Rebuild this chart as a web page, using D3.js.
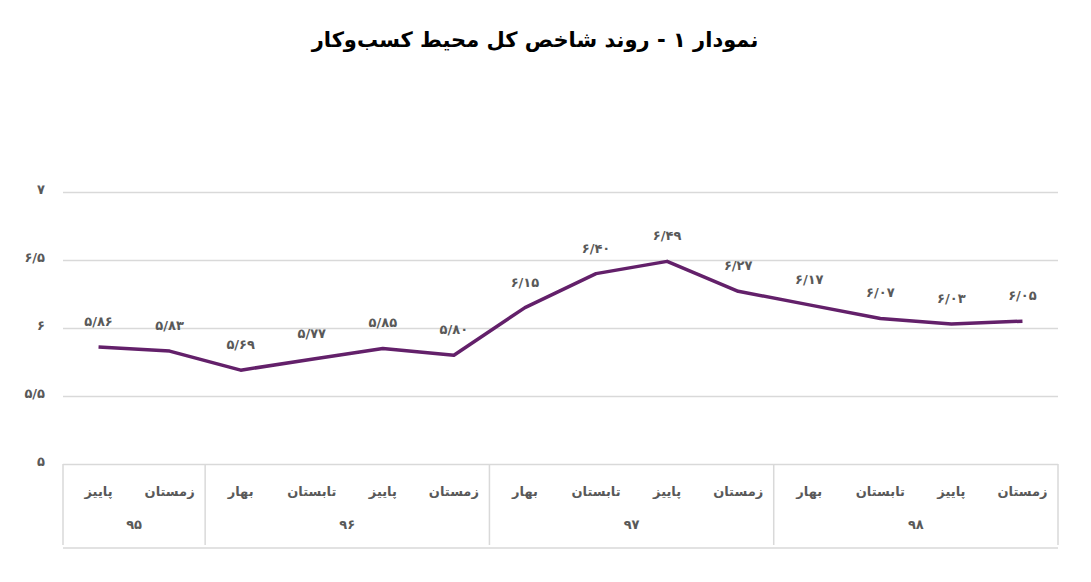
<!DOCTYPE html>
<html lang="fa">
<head>
<meta charset="utf-8">
<script src="https://cdn.jsdelivr.net/npm/d3@7"></script>
<style>
  html, body { margin: 0; padding: 0; background: #fff; }
  svg { display: block; font-family: "DejaVu Sans", "Noto Sans", sans-serif; }
</style>
</head>
<body>
<svg id="chart" width="1091" height="582"></svg>
<script>
const title = "نمودار ۱ - روند شاخص کل محیط کسب‌وکار";
const seasons = ["پاییز","زمستان","بهار","تابستان","پاییز","زمستان","بهار","تابستان","پاییز","زمستان","بهار","تابستان","پاییز","زمستان"];
const years = ["۹۵","۹۵","۹۶","۹۶","۹۶","۹۶","۹۷","۹۷","۹۷","۹۷","۹۸","۹۸","۹۸","۹۸"];
const values = [5.86, 5.83, 5.69, 5.77, 5.85, 5.80, 6.15, 6.40, 6.49, 6.27, 6.17, 6.07, 6.03, 6.05];
const yTicks = [5, 5.5, 6, 6.5, 7];

const faDigits = "۰۱۲۳۴۵۶۷۸۹";
const toFa = s => String(s).replace(/\d/g, d => faDigits[+d]).replace(".", "/");

const svg = d3.select("#chart");
const mLeft = 63, mRight = 1058, mTop = 192, mBottom = 464;

const x = d3.scaleBand().domain(d3.range(values.length)).range([mLeft, mRight]);
const y = d3.scaleLinear().domain([5, 7]).range([mBottom, mTop]);

// title
svg.append("text").attr("x", 535).attr("y", 47).attr("text-anchor", "middle")
  .attr("font-size", 21).attr("font-weight", "bold").attr("fill", "#000")
  .attr("direction", "rtl").text(title);

// gridlines
const yAxis = d3.axisLeft(y).tickValues(yTicks).tickSize(-(mRight - mLeft)).tickFormat(toFa);
const gy = svg.append("g").attr("transform", `translate(${mLeft},0)`).call(yAxis);
gy.select(".domain").remove();
gy.selectAll(".tick line").attr("stroke", "#d9d9d9").attr("stroke-width", 1.5);
gy.selectAll(".tick text").attr("x", -18).attr("dy", "0.1em").attr("fill", "#595959")
  .attr("font-size", 13).attr("font-weight", "bold").attr("font-family", "DejaVu Sans");

// category axis
const gx = svg.append("g");
gx.selectAll("text.season").data(seasons).join("text").attr("class", "season")
  .attr("x", (d, i) => x(i) + x.bandwidth() / 2).attr("y", 496)
  .attr("text-anchor", "middle").attr("font-size", 13).attr("font-weight", "bold")
  .attr("fill", "#595959").text(d => d);

// year groups
const groups = [];
years.forEach((yr, i) => {
  const g = groups[groups.length - 1];
  if (g && g.year === yr) g.end = i; else groups.push({year: yr, start: i, end: i});
});
const boundaries = [mLeft].concat(groups.map(g => x(g.end) + x.bandwidth()));
gx.selectAll("line.sep").data(boundaries).join("line").attr("class", "sep")
  .attr("x1", d => d).attr("x2", d => d).attr("y1", mBottom).attr("y2", 545)
  .attr("stroke", "#d9d9d9").attr("stroke-width", 1.5);
gx.append("line").attr("x1", mLeft).attr("x2", mRight).attr("y1", 548).attr("y2", 548)
  .attr("stroke", "#d9d9d9").attr("stroke-width", 1.5);
gx.selectAll("text.year").data(groups).join("text").attr("class", "year")
  .attr("x", g => (x(g.start) + x(g.end) + x.bandwidth()) / 2).attr("y", 529)
  .attr("text-anchor", "middle").attr("font-size", 13).attr("font-weight", "bold")
  .attr("fill", "#595959").text(g => g.year);

// line
const line = d3.line().x((d, i) => x(i) + x.bandwidth() / 2).y(d => y(d));
svg.append("path").datum(values).attr("d", line).attr("fill", "none")
  .attr("stroke", "#63206a").attr("stroke-width", 3.5).attr("stroke-linejoin", "round");

// data labels
svg.selectAll("text.lbl").data(values).join("text").attr("class", "lbl")
  .attr("x", (d, i) => x(i) + x.bandwidth() / 2).attr("y", d => y(d) - 21)
  .attr("text-anchor", "middle").attr("font-size", 13).attr("font-weight", "bold")
  .attr("fill", "#595959").text(d => toFa(d.toFixed(2)));
</script>
</body>
</html>
